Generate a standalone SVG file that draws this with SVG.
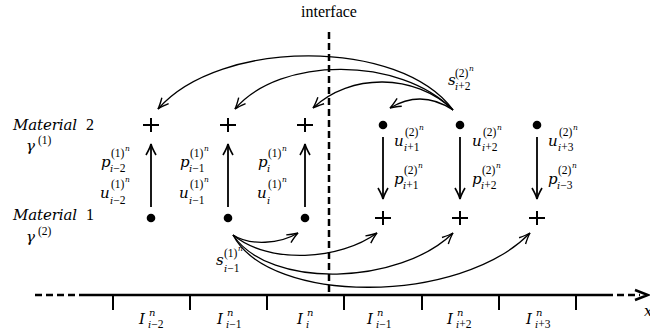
<svg xmlns="http://www.w3.org/2000/svg" width="650" height="335" viewBox="0 0 650 335">
<style>
text{font-family:"Liberation Serif",serif;fill:#000}
.m{font-family:"DejaVu Serif",serif;font-style:italic;font-size:15px}
.up{font-family:"Liberation Serif",serif;font-style:normal}
.sup{font-family:"Liberation Serif",serif;font-size:11.5px;font-style:normal}
.supi{font-family:"DejaVu Serif",serif;font-size:10px;font-style:italic}
.sub{font-family:"DejaVu Serif",serif;font-size:10px;font-style:italic}
.sub .up{font-size:11.5px}
.nn{font-family:"DejaVu Serif",serif;font-size:7.5px;font-style:italic}
.rm{font-size:16px}
.plus{stroke:#000;stroke-width:2;fill:none}
.dot{fill:#000}
.arc{fill:none;stroke:#000;stroke-width:1.3;marker-end:url(#ah)}
.varr{fill:none;stroke:#000;stroke-width:1.8;marker-end:url(#ah2)}
.axis{fill:none;stroke:#000;stroke-width:2.5}
.tick{stroke:#000;stroke-width:2}
</style>
<defs>
<marker id="ah" markerUnits="userSpaceOnUse" viewBox="-12 -7 14 14" refX="0" refY="0" markerWidth="14" markerHeight="14" orient="auto">
<path d="M-11,-4.5 Q-4,-1 0,0 Q-4,1 -11,4.5" fill="none" stroke="#000" stroke-width="1.4"/>
</marker>
<marker id="ah2" markerUnits="userSpaceOnUse" viewBox="-12 -7 14 14" refX="0" refY="0" markerWidth="14" markerHeight="14" orient="auto">
<path d="M-11,-5 Q-4,-1 0,0 Q-4,1 -11,5" fill="none" stroke="#000" stroke-width="1.6"/>
</marker>
</defs>
<rect width="650" height="335" fill="#fff"/>

<g id="interface">
<text class="rm" x="329" y="17" text-anchor="middle">interface</text>
<line x1="329" y1="32" x2="329" y2="296" stroke="#000" stroke-width="2.5" stroke-dasharray="7 4"/>
</g>

<g id="material-labels">
<text class="m" x="13" y="130"><tspan textLength="64" lengthAdjust="spacing">Material</tspan><tspan class="up" x="86" font-size="16">2</tspan></text>
<text class="m" x="26" y="151" font-size="16">γ<tspan class="sup" x="38" y="144" font-size="12.5">(1)</tspan></text>
<text class="m" x="13" y="220"><tspan textLength="64" lengthAdjust="spacing">Material</tspan><tspan class="up" x="86" font-size="16">1</tspan></text>
<text class="m" x="26" y="242" font-size="16">γ<tspan class="sup" x="38" y="235" font-size="12.5">(2)</tspan></text>
</g>

<g id="node-m2-im2"><path class="plus" d="M143,125 H159 M151,118 V132"/></g>
<g id="node-m2-im1"><path class="plus" d="M220,125 H236 M228,118 V132"/></g>
<g id="node-m2-i"><path class="plus" d="M297,125 H313 M305,118 V132"/></g>
<g id="node-m1-im2"><circle class="dot" cx="151" cy="218" r="4.3"/></g>
<g id="node-m1-im1"><circle class="dot" cx="228" cy="218" r="4.3"/></g>
<g id="node-m1-i"><circle class="dot" cx="305" cy="218" r="4.3"/></g>
<g id="node-m2-ip1"><circle class="dot" cx="383" cy="125" r="4.3"/></g>
<g id="node-m2-ip2"><circle class="dot" cx="460" cy="125" r="4.3"/></g>
<g id="node-m2-ip3"><circle class="dot" cx="537" cy="125" r="4.3"/></g>
<g id="node-m1-ip1"><path class="plus" d="M375,218 H391 M383,211 V225"/></g>
<g id="node-m1-ip2"><path class="plus" d="M452,218 H468 M460,211 V225"/></g>
<g id="node-m1-ip3"><path class="plus" d="M529,218 H545 M537,211 V225"/></g>

<g id="labels-left">
<text class="m"><tspan x="101" y="167">p</tspan><tspan class="sup" x="111" y="157">(1)</tspan><tspan class="nn" x="125" y="151">n</tspan><tspan class="sub" x="110" y="172">i<tspan class="up">−2</tspan></tspan></text>
<text class="m"><tspan x="100" y="198">u</tspan><tspan class="sup" x="111" y="188">(1)</tspan><tspan class="nn" x="125" y="182">n</tspan><tspan class="sub" x="110" y="204">i<tspan class="up">−2</tspan></tspan></text>
<text class="m"><tspan x="180" y="167">p</tspan><tspan class="sup" x="190" y="157">(1)</tspan><tspan class="nn" x="204" y="151">n</tspan><tspan class="sub" x="189" y="172">i<tspan class="up">−1</tspan></tspan></text>
<text class="m"><tspan x="179" y="198">u</tspan><tspan class="sup" x="190" y="188">(1)</tspan><tspan class="nn" x="204" y="182">n</tspan><tspan class="sub" x="189" y="204">i<tspan class="up">−1</tspan></tspan></text>
<text class="m"><tspan x="258" y="167">p</tspan><tspan class="sup" x="268" y="157">(1)</tspan><tspan class="nn" x="282" y="151">n</tspan><tspan class="sub" x="267" y="172">i</tspan></text>
<text class="m"><tspan x="257" y="198">u</tspan><tspan class="sup" x="268" y="188">(1)</tspan><tspan class="nn" x="282" y="182">n</tspan><tspan class="sub" x="267" y="204">i</tspan></text>
</g>

<g id="labels-right">
<text class="m"><tspan x="394" y="146">u</tspan><tspan class="sup" x="405" y="136">(2)</tspan><tspan class="nn" x="419" y="130">n</tspan><tspan class="sub" x="404" y="151">i<tspan class="up">+1</tspan></tspan></text>
<text class="m"><tspan x="394" y="184">p</tspan><tspan class="sup" x="404" y="174">(2)</tspan><tspan class="nn" x="418" y="168">n</tspan><tspan class="sub" x="403" y="189">i<tspan class="up">+1</tspan></tspan></text>
<text class="m"><tspan x="472" y="146">u</tspan><tspan class="sup" x="483" y="136">(2)</tspan><tspan class="nn" x="497" y="130">n</tspan><tspan class="sub" x="482" y="151">i<tspan class="up">+2</tspan></tspan></text>
<text class="m"><tspan x="472" y="184">p</tspan><tspan class="sup" x="482" y="174">(2)</tspan><tspan class="nn" x="496" y="168">n</tspan><tspan class="sub" x="481" y="189">i<tspan class="up">+2</tspan></tspan></text>
<text class="m"><tspan x="548" y="146">u</tspan><tspan class="sup" x="559" y="136">(2)</tspan><tspan class="nn" x="573" y="130">n</tspan><tspan class="sub" x="558" y="151">i<tspan class="up">+3</tspan></tspan></text>
<text class="m"><tspan x="548" y="184">p</tspan><tspan class="sup" x="558" y="174">(2)</tspan><tspan class="nn" x="572" y="168">n</tspan><tspan class="sub" x="557" y="189">i<tspan class="up">−3</tspan></tspan></text>
</g>

<g id="flux-labels">
<text class="m"><tspan x="448" y="85">s</tspan><tspan class="sup" x="455" y="77">(2)</tspan><tspan class="nn" x="469" y="71">n</tspan><tspan class="sub" x="455" y="90">i<tspan class="up">+2</tspan></tspan></text>
<text class="m"><tspan x="216" y="265">s</tspan><tspan class="sup" x="224" y="257">(1)</tspan><tspan class="nn" x="238" y="251">n</tspan><tspan class="sub" x="224" y="272">i<tspan class="up">−1</tspan></tspan></text>
</g>

<g id="connectors">
<line class="varr" x1="151" y1="207" x2="151" y2="144"/>
<line class="varr" x1="228" y1="207" x2="228" y2="144"/>
<line class="varr" x1="305" y1="207" x2="305" y2="144"/>
<line class="varr" x1="383" y1="137" x2="383" y2="199"/>
<line class="varr" x1="460" y1="137" x2="460" y2="199"/>
<line class="varr" x1="537" y1="137" x2="537" y2="199"/>
<path class="arc" d="M453,110 C400,38 220,38 158,109"/>
<path class="arc" d="M453,110 C400,56 280,56 235,109"/>
<path class="arc" d="M453,110 C415,73 350,73 313,108"/>
<path class="arc" d="M453,110 C432,96 410,96 390,108"/>
<path class="arc" d="M233,235 C250,246 280,244 298,233"/>
<path class="arc" d="M233,235 C270,265 340,260 377,233"/>
<path class="arc" d="M233,235 C270,290 400,285 453,233"/>
<path class="arc" d="M233,235 C270,305 460,305 530,233"/>
</g>

<g id="axis">
<line class="axis" x1="35" y1="295" x2="82" y2="295" stroke-dasharray="7 4"/>
<line class="axis" x1="82" y1="295" x2="613" y2="295"/>
<line class="axis" x1="617" y1="295" x2="640" y2="295" stroke-dasharray="7 4"/>
<path class="axis" d="M635,290 L648,295 L635,300"/>
<line class="tick" x1="113" y1="295" x2="113" y2="310"/>
<line class="tick" x1="190" y1="295" x2="190" y2="310"/>
<line class="tick" x1="267" y1="295" x2="267" y2="310"/>
<line class="tick" x1="344" y1="295" x2="344" y2="310"/>
<line class="tick" x1="422" y1="295" x2="422" y2="310"/>
<line class="tick" x1="499" y1="295" x2="499" y2="310"/>
<line class="tick" x1="576" y1="295" x2="576" y2="310"/>
<text class="m" x="644" y="316">x</text>
<text class="m"><tspan x="139" y="324">I</tspan><tspan class="supi" x="149" y="316">n</tspan><tspan class="sub" x="148" y="328">i<tspan class="up">−2</tspan></tspan></text>
<text class="m"><tspan x="217" y="324">I</tspan><tspan class="supi" x="227" y="316">n</tspan><tspan class="sub" x="226" y="328">i<tspan class="up">−1</tspan></tspan></text>
<text class="m"><tspan x="297" y="324">I</tspan><tspan class="supi" x="307" y="316">n</tspan><tspan class="sub" x="306" y="328">i</tspan></text>
<text class="m"><tspan x="367" y="324">I</tspan><tspan class="supi" x="377" y="316">n</tspan><tspan class="sub" x="376" y="328">i<tspan class="up">−1</tspan></tspan></text>
<text class="m"><tspan x="447" y="324">I</tspan><tspan class="supi" x="457" y="316">n</tspan><tspan class="sub" x="456" y="328">i<tspan class="up">+2</tspan></tspan></text>
<text class="m"><tspan x="526" y="324">I</tspan><tspan class="supi" x="536" y="316">n</tspan><tspan class="sub" x="535" y="328">i<tspan class="up">+3</tspan></tspan></text>
</g>
</svg>
